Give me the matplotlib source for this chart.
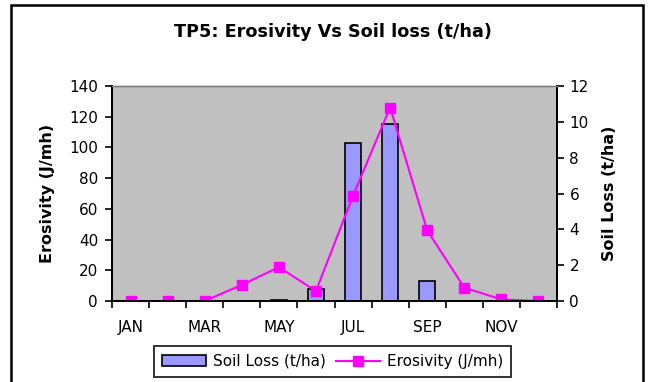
import matplotlib
matplotlib.use("Agg")
import matplotlib.pyplot as plt
from matplotlib.patches import Rectangle
import numpy as np

# Monthly data
months = ["JAN", "FEB", "MAR", "APR", "MAY", "JUN",
          "JUL", "AUG", "SEP", "OCT", "NOV", "DEC"]
erosivity = [0, 0, 0, 10.5, 22, 6.5, 68.5, 126, 46, 8.7, 1.0, 0]     # J/mh
soil_loss = [0, 0, 0, 0, 0.05, 0.65, 8.8, 9.9, 1.1, 0, 0, 0]          # t/ha

erosivity_ticks = [0, 20, 40, 60, 80, 100, 120, 140]
soil_loss_ticks = [0, 2, 4, 6, 8, 10, 12]

title = "TP5: Erosivity Vs Soil loss (t/ha)"

plt.rcParams["font.family"] = ["DejaVu Sans"]

W, H = 654, 382
fig = plt.figure(figsize=(W / 100, H / 100), dpi=100)
fig.patch.set_facecolor("white")

# Outer chart frame (runs off the bottom edge)
fig.add_artist(Rectangle((11 / W, -0.05), (643 - 11) / W, 1.05 - 5 / H,
                         transform=fig.transFigure, fill=False,
                         edgecolor="black", linewidth=1.8))

left, right, top, bottom = 112, 557, 86, 301
ax = fig.add_axes([left / W, 1 - bottom / H, (right - left) / W, (bottom - top) / H])
ax2 = ax.twinx()

x = np.arange(len(months))

# Soil loss bars on the secondary axis, drawn behind the erosivity line
ax2.patch.set_visible(True)
ax2.patch.set_facecolor("#C0C0C0")
ax.set_zorder(ax2.get_zorder() + 1)
ax.patch.set_visible(False)

ax2.bar(x, soil_loss, width=0.43, color="#9999FF", edgecolor="black",
        linewidth=1.2, label="Soil Loss (t/ha)")
ax.plot(x, erosivity, color="#FF00FF", linewidth=1.5, marker="s",
        markersize=6.5, markerfacecolor="#FF00FF", markeredgecolor="#FF00FF",
        label="Erosivity (J/mh)")

ax.set_xlim(-0.5, len(months) - 0.5)
ax.set_ylim(0, 140)
ax2.set_ylim(0, 12)
ax.set_yticks(erosivity_ticks)
ax2.set_yticks(soil_loss_ticks)

# Tick marks at category boundaries, labels on every other month
ax.set_xticks(np.arange(-0.5, len(months), 1.0))
ax.set_xticklabels([])
ax.set_xticks(x[::2], minor=True)
ax.set_xticklabels(months[::2], minor=True)
ax.tick_params(axis="x", which="major", direction="out", length=5, width=1.2,
               color="black")
ax.tick_params(axis="x", which="minor", length=0, pad=13.5, labelsize=11)
ax2.tick_params(axis="x", which="both", length=0)

ax.tick_params(axis="y", direction="out", length=5, width=1.2, pad=5,
               labelsize=11)
ax2.tick_params(axis="y", direction="out", length=5, width=1.2, pad=4,
                labelsize=11)

for a in (ax, ax2):
    for side in ("left", "right", "bottom"):
        a.spines[side].set_color("black")
        a.spines[side].set_linewidth(1.3)
    a.spines["top"].set_color("#808080")
    a.spines["top"].set_linewidth(1.0)

ax.set_ylabel("Erosivity (J/mh)", fontsize=11.5, fontweight="bold",
              rotation=90, va="center", ha="center")
ax.yaxis.set_label_coords((48 - left) / (right - left), 0.5)
ax2.set_ylabel("Soil Loss (t/ha)", fontsize=11.5, fontweight="bold",
               rotation=90, va="center", ha="center")
ax2.yaxis.set_label_coords((609 - left) / (right - left), 0.5)

fig.text(333 / W, 1 - 32 / H, title, ha="center", va="center",
         fontsize=12.7, fontweight="bold")

handles = ax2.get_legend_handles_labels()[0] + ax.get_legend_handles_labels()[0]
labels = ax2.get_legend_handles_labels()[1] + ax.get_legend_handles_labels()[1]
leg = fig.legend(handles, labels, loc="center",
                 bbox_to_anchor=(332.5 / W, 1 - 361.5 / H), ncol=2,
                 fontsize=11, frameon=True, fancybox=False, shadow=False,
                 handlelength=2.9, handletextpad=0.4, columnspacing=0.7,
                 borderpad=0.55, borderaxespad=0)
leg.get_frame().set_edgecolor("black")
leg.get_frame().set_linewidth(1.4)

fig.savefig("out.png", dpi=100)
